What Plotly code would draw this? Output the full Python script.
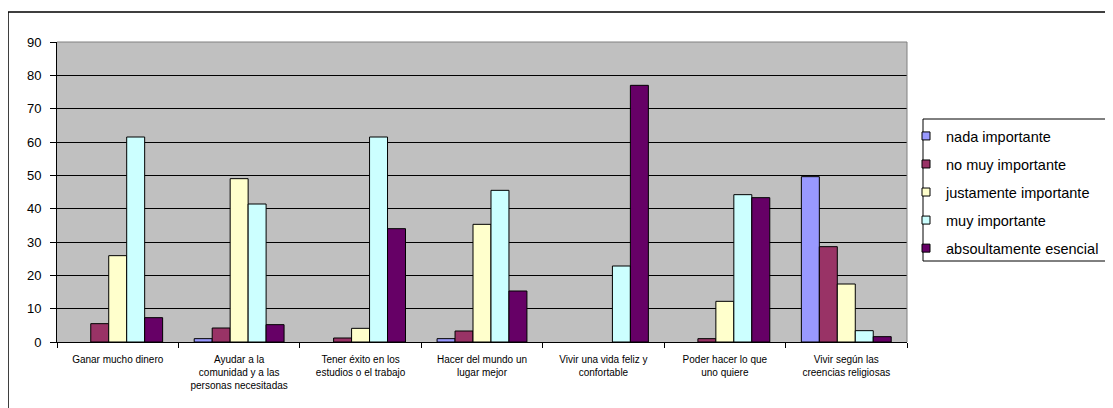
import plotly.graph_objects as go

categories = [
    "Ganar mucho dinero",
    "Ayudar a la<br>comunidad y a las<br>personas necesitadas",
    "Tener éxito en los<br>estudios o el trabajo",
    "Hacer del mundo un<br>lugar mejor",
    "Vivir una vida feliz y<br>confortable",
    "Poder hacer lo que<br>uno quiere",
    "Vivir según las<br>creencias religiosas",
]
series_names = ["nada importante", "no muy importante", "justamente importante",
                "muy importante", "absoultamente esencial"]
nada = [None, 1.0, None, 1.0, None, None, 49.6]
no_muy = [5.5, 4.2, 1.2, 3.3, None, 1.0, 28.6]
justamente = [25.9, 49.0, 4.1, 35.3, None, 12.2, 17.4]
muy = [61.5, 41.4, 61.5, 45.5, 22.8, 44.2, 3.4]
absoluto = [7.3, 5.2, 34.0, 15.3, 77.0, 43.3, 1.6]
series_values = [nada, no_muy, justamente, muy, absoluto]
colors = ["#9999FF", "#993366", "#FFFFCC", "#CCFFFF", "#660066"]
y_ticks = [0, 10, 20, 30, 40, 50, 60, 70, 80, 90]

FONT = "Arial, Liberation Sans, sans-serif"

fig = go.Figure()
for name, vals, col in zip(series_names, series_values, colors):
    fig.add_trace(go.Bar(
        x=categories, y=vals, name=name, legendgroup=name, showlegend=False,
        marker=dict(color=col, line=dict(color="black", width=1)),
    ))
for name, col in zip(series_names, colors):
    fig.add_trace(go.Scatter(
        x=[None], y=[None], mode="markers", name=name, legendgroup=name,
        marker=dict(symbol="square", size=8, color=col,
                    line=dict(color="black", width=1)),
    ))

# page body has an 8px margin; figure coords = page coords - 8
L, R, T, B = 49, 214, 34, 74
PW, PH = 1113 - L - R, 408 - T - B

def px(x):
    return (x - L) / PW

def py(y):
    return (408 - B - y) / PH

fig.update_layout(
    width=1113, height=408,
    margin=dict(l=L, r=R, t=T, b=B, autoexpand=False),
    paper_bgcolor="white",
    plot_bgcolor="#C0C0C0",
    barmode="group",
    bargap=0.26,
    bargroupgap=0,
    font=dict(family=FONT, color="black"),
    showlegend=True,
    legend=dict(
        x=px(898), xanchor="left", y=py(112), yanchor="top",
        bgcolor="rgba(0,0,0,0)", borderwidth=0,
        font=dict(size=14.5, family=FONT),
        tracegroupgap=6.2, itemwidth=30, itemsizing="trace",
    ),
    xaxis=dict(
        type="category", tickson="boundaries", ticks="outside", ticklen=5,
        tickcolor="black", showline=True, linecolor="black", linewidth=1,
        tickfont=dict(size=10), tickangle=0, showgrid=False,
        ticklabelstandoff=8,
    ),
    yaxis=dict(
        range=[0, 90], tickvals=y_ticks, ticks="outside", ticklen=6,
        tickcolor="black", showline=True, linecolor="black", linewidth=1,
        gridcolor="black", gridwidth=1, tickfont=dict(size=13),
        zeroline=False, fixedrange=True, ticklabelstandoff=6,
    ),
    shapes=[
        dict(type="line", xref="paper", yref="paper", x0=0, x1=1, y0=1, y1=1,
             line=dict(color="#808080", width=1)),
        dict(type="line", xref="paper", yref="paper", x0=1, x1=1, y0=0, y1=1,
             line=dict(color="#808080", width=1)),
        dict(type="rect", xref="paper", yref="paper",
             x0=px(0), x1=px(1200), y0=py(500), y1=py(4),
             line=dict(color="black", width=1.5), fillcolor="rgba(0,0,0,0)",
             layer="below"),
        dict(type="rect", xref="paper", yref="paper",
             x0=px(915), x1=px(1104), y0=py(253), y1=py(111),
             line=dict(color="black", width=1), fillcolor="white",
             layer="below"),
    ],
)

fig.write_html("out.html")
